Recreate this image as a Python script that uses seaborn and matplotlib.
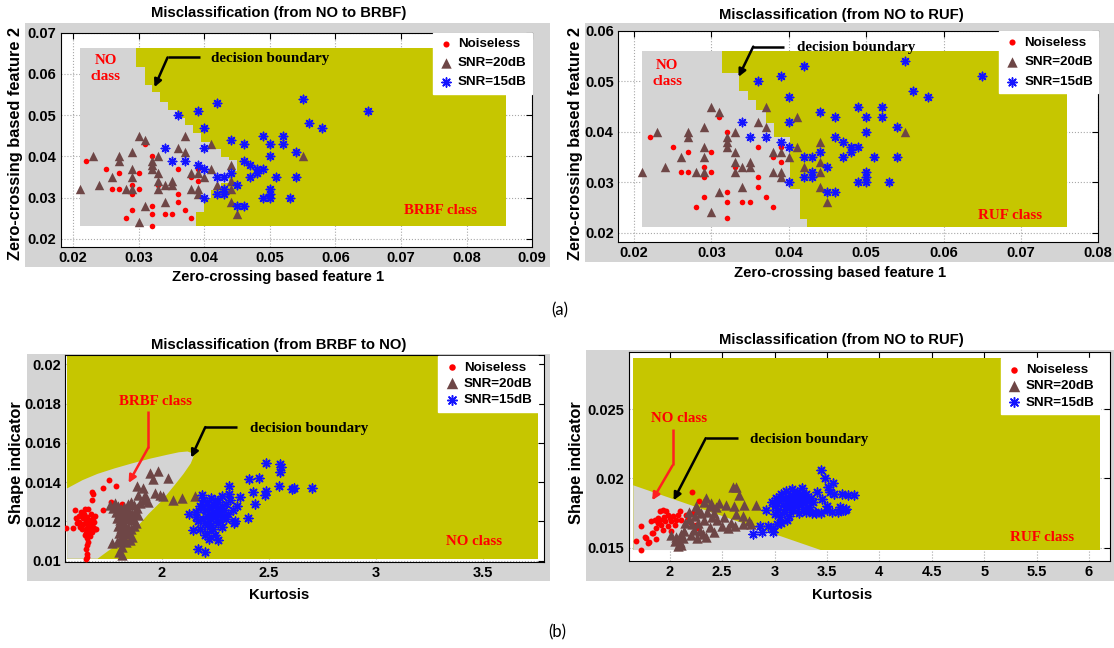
import matplotlib
matplotlib.use("Agg")
import matplotlib.pyplot as plt
from matplotlib.patches import Rectangle
import seaborn as sns

# ---------------- data ----------------
# top row: both panels show the same zero-crossing features
top_red_x = [0.022, 0.025, 0.027, 0.026, 0.027, 0.028, 0.029, 0.029, 0.029, 0.030, 0.030, 0.031, 0.032, 0.032,
             0.032, 0.032, 0.033, 0.034, 0.035, 0.036, 0.036, 0.036, 0.037, 0.038, 0.038, 0.039, 0.039]
top_red_y = [0.039, 0.037, 0.036, 0.032, 0.032, 0.025, 0.033, 0.031, 0.027, 0.036, 0.032, 0.043, 0.040, 0.028,
             0.026, 0.023, 0.033, 0.026, 0.026, 0.037, 0.031, 0.029, 0.027, 0.035, 0.025, 0.034, 0.037]
top_tri_x = [0.021, 0.023, 0.024, 0.026, 0.027, 0.027, 0.028, 0.029, 0.029, 0.029, 0.029, 0.030, 0.030, 0.031,
             0.031, 0.032, 0.032, 0.032, 0.033, 0.033, 0.033, 0.033, 0.034, 0.034, 0.035, 0.035, 0.036, 0.037,
             0.037, 0.038, 0.038, 0.039, 0.039, 0.039, 0.040, 0.041, 0.041, 0.042, 0.044, 0.044, 0.044, 0.044,
             0.045, 0.055]
top_tri_y = [0.032, 0.040, 0.033, 0.035, 0.040, 0.039, 0.032, 0.041, 0.037, 0.035, 0.032, 0.045, 0.024, 0.044,
             0.028, 0.039, 0.038, 0.037, 0.040, 0.036, 0.034, 0.032, 0.033, 0.029, 0.034, 0.033, 0.042, 0.045,
             0.041, 0.036, 0.032, 0.032, 0.031, 0.036, 0.035, 0.043, 0.037, 0.033, 0.038, 0.034, 0.032, 0.029,
             0.026, 0.040]
top_star_x = [0.034, 0.035, 0.037, 0.036, 0.039, 0.040, 0.040, 0.039, 0.040, 0.040, 0.042, 0.042, 0.042, 0.043,
              0.043, 0.043, 0.044, 0.044, 0.045, 0.045, 0.046, 0.046, 0.046, 0.047, 0.047, 0.048, 0.048, 0.049,
              0.049, 0.049, 0.050, 0.050, 0.050, 0.050, 0.050, 0.051, 0.052, 0.052, 0.053, 0.054, 0.054, 0.055,
              0.056, 0.058, 0.065]
top_star_y = [0.042, 0.039, 0.039, 0.050, 0.051, 0.047, 0.042, 0.038, 0.037, 0.030, 0.053, 0.035, 0.031, 0.035,
              0.032, 0.031, 0.044, 0.036, 0.033, 0.028, 0.028, 0.043, 0.039, 0.038, 0.035, 0.037, 0.036, 0.037,
              0.045, 0.030, 0.043, 0.040, 0.032, 0.031, 0.030, 0.035, 0.045, 0.043, 0.030, 0.041, 0.035, 0.054,
              0.048, 0.047, 0.051]

# bottom-left: kurtosis vs shape indicator (BRBF -> NO)
bl_red = [(1.553, 0.01168), (1.585, 0.01168), (1.595, 0.01256), (1.600, 0.01215), (1.605, 0.01190),
          (1.612, 0.01230), (1.615, 0.01197), (1.618, 0.01170), (1.622, 0.01250), (1.626, 0.01160),
          (1.630, 0.01215), (1.634, 0.01185), (1.638, 0.01238), (1.642, 0.01264), (1.645, 0.01205),
          (1.645, 0.01163), (1.648, 0.01140), (1.650, 0.01222), (1.652, 0.01185), (1.655, 0.01264),
          (1.657, 0.01150), (1.660, 0.01130), (1.662, 0.01205), (1.665, 0.01175), (1.668, 0.01240),
          (1.670, 0.01160), (1.673, 0.01190), (1.675, 0.01145), (1.678, 0.01215), (1.681, 0.01170),
          (1.684, 0.01195), (1.688, 0.01160), (1.695, 0.01163), (1.650, 0.01115), (1.655, 0.01095),
          (1.650, 0.01079), (1.645, 0.01060), (1.650, 0.01035), (1.652, 0.01020), (1.648, 0.01010),
          (1.665, 0.01128), (1.675, 0.01352), (1.680, 0.01340), (1.675, 0.01310), (1.725, 0.01369),
          (1.753, 0.01411), (1.787, 0.01382), (1.725, 0.01256), (1.765, 0.01301), (1.812, 0.01290),
          (1.690, 0.01230), (1.640, 0.01130)]
bl_tri = [(1.945, 0.01448), (1.984, 0.01456), (1.960, 0.01414), (2.030, 0.01422), (1.883, 0.01380),
          (1.914, 0.01370), (1.890, 0.01337), (1.922, 0.01337), (1.968, 0.01345), (1.991, 0.01337),
          (2.007, 0.01328), (2.053, 0.01311), (2.092, 0.01320), (2.154, 0.01328), (1.756, 0.01285),
          (1.780, 0.01294), (1.770, 0.01268), (1.795, 0.01280), (1.810, 0.01265), (1.825, 0.01275),
          (1.840, 0.01290), (1.855, 0.01300), (1.870, 0.01285), (1.885, 0.01270), (1.900, 0.01295),
          (1.915, 0.01310), (1.935, 0.01300), (1.785, 0.01250), (1.800, 0.01240), (1.815, 0.01230),
          (1.830, 0.01245), (1.845, 0.01255), (1.860, 0.01240), (1.875, 0.01250), (1.890, 0.01235),
          (1.790, 0.01215), (1.805, 0.01205), (1.820, 0.01195), (1.835, 0.01210), (1.850, 0.01220),
          (1.865, 0.01205), (1.880, 0.01190), (1.795, 0.01175), (1.810, 0.01165), (1.825, 0.01180),
          (1.840, 0.01170), (1.855, 0.01160), (1.870, 0.01175), (1.800, 0.01140), (1.815, 0.01130),
          (1.830, 0.01145), (1.845, 0.01135), (1.860, 0.01120), (1.805, 0.01100), (1.820, 0.01110),
          (1.835, 0.01095), (1.850, 0.01105), (1.800, 0.01046), (1.816, 0.01029), (1.816, 0.01072),
          (1.792, 0.01097), (1.769, 0.01089)]
bl_star = [(2.487, 0.01495), (2.550, 0.01492), (2.557, 0.01475), (2.553, 0.01450), (2.453, 0.01421),
           (2.408, 0.01416), (2.312, 0.01379), (2.425, 0.01348), (2.487, 0.01357), (2.482, 0.01332),
           (2.545, 0.01382), (2.608, 0.01365), (2.615, 0.01372), (2.703, 0.01370), (2.365, 0.01323),
           (2.437, 0.01290), (2.400, 0.01217), (2.337, 0.01192), (2.187, 0.01332), (2.312, 0.01340),
           (2.262, 0.01104), (2.170, 0.01062), (2.203, 0.01045), (2.145, 0.01155), (2.128, 0.01239),
           (2.16, 0.0125), (2.18, 0.0128), (2.19, 0.0121), (2.20, 0.0126), (2.21, 0.0130), (2.21, 0.0118),
           (2.22, 0.0124), (2.22, 0.0127), (2.23, 0.0121), (2.23, 0.0132), (2.24, 0.0125), (2.24, 0.0116),
           (2.25, 0.0128), (2.25, 0.0122), (2.26, 0.0130), (2.26, 0.0119), (2.27, 0.0125), (2.27, 0.0127),
           (2.28, 0.0122), (2.28, 0.0133), (2.29, 0.0126), (2.30, 0.0121), (2.30, 0.0129), (2.31, 0.0124),
           (2.32, 0.0131), (2.17, 0.0120), (2.18, 0.0116), (2.19, 0.0131), (2.20, 0.0113), (2.21, 0.0123),
           (2.22, 0.0111), (2.23, 0.0118), (2.24, 0.0129), (2.25, 0.0113), (2.26, 0.0124), (2.27, 0.0120),
           (2.28, 0.0117), (2.29, 0.0123), (2.33, 0.0126), (2.34, 0.0120), (2.35, 0.0128), (2.19, 0.0127),
           (2.20, 0.0119), (2.23, 0.0127), (2.25, 0.0131), (2.16, 0.0122), (2.28, 0.0128), (2.21, 0.0114)]

# bottom-right: kurtosis vs shape indicator (NO -> RUF)
br_red = [(1.676, 0.01548), (1.731, 0.01483), (1.731, 0.01655), (1.762, 0.01574), (1.799, 0.01543),
          (1.867, 0.01560), (1.833, 0.01603), (2.215, 0.01902), (2.283, 0.01837), (1.826, 0.01690),
          (1.858, 0.01702), (1.889, 0.01714), (1.905, 0.01762), (1.937, 0.01774), (1.968, 0.01762),
          (1.984, 0.01738), (2.000, 0.01714), (1.953, 0.01690), (1.921, 0.01667), (1.889, 0.01679),
          (1.873, 0.01643), (1.937, 0.01631), (1.984, 0.01655), (2.016, 0.01690), (2.032, 0.01726),
          (2.079, 0.01738), (2.095, 0.01762), (2.047, 0.01667), (2.016, 0.01619), (2.111, 0.01702),
          (2.158, 0.01738), (2.174, 0.01714), (2.222, 0.01750), (2.253, 0.01667), (2.269, 0.01643),
          (2.206, 0.01679), (1.842, 0.01607), (1.772, 0.01571), (1.794, 0.01536), (1.950, 0.01720),
          (1.910, 0.01700), (2.060, 0.01700)]
br_tri = [(2.601, 0.0194), (2.632, 0.0194), (2.665, 0.0188), (2.538, 0.0181), (2.617, 0.0180),
          (2.712, 0.0181), (2.823, 0.0181), (2.475, 0.0182), (2.696, 0.0173), (2.633, 0.0174),
          (2.775, 0.0167), (2.696, 0.0167), (2.585, 0.0168), (2.348, 0.0186), (2.269, 0.0177),
          (2.396, 0.0182), (2.443, 0.0179), (2.237, 0.0173), (2.300, 0.0175), (2.360, 0.0176),
          (2.400, 0.0172), (2.450, 0.0170), (2.330, 0.0170), (2.270, 0.0168), (2.210, 0.0167),
          (2.150, 0.0168), (2.180, 0.0171), (2.230, 0.0163), (2.290, 0.0162), (2.140, 0.0162),
          (2.110, 0.0160), (2.060, 0.0158), (2.017, 0.0159), (2.130, 0.0157), (2.100, 0.0154),
          (2.112, 0.0152), (2.080, 0.0151), (2.050, 0.0155), (2.200, 0.0159), (2.260, 0.0157),
          (2.320, 0.0160), (2.380, 0.0165), (2.420, 0.0161), (2.350, 0.0158), (2.500, 0.0166),
          (2.560, 0.0164), (2.620, 0.0166), (2.760, 0.0169), (2.520, 0.0172), (2.380, 0.0180),
          (2.330, 0.0183), (2.250, 0.0180), (2.180, 0.0176), (2.420, 0.0175)]
br_star = [(3.448, 0.0206), (3.480, 0.0200), (3.512, 0.0194), (3.560, 0.0197), (3.528, 0.0190),
           (3.566, 0.0189), (3.640, 0.0189), (3.700, 0.0188), (3.754, 0.0188), (3.407, 0.0190),
           (3.607, 0.0176), (3.655, 0.0177), (3.496, 0.0177), (3.448, 0.0175), (3.680, 0.0178),
           (3.669, 0.0177), (3.400, 0.0175), (3.360, 0.0175), (3.300, 0.0176), (2.794, 0.0160),
           (2.879, 0.0161), (2.981, 0.0161), (2.862, 0.0166), (2.940, 0.0166), (2.923, 0.0177),
           (2.990, 0.0164), (3.020, 0.0167),
           (2.98, 0.0183), (3.00, 0.0180), (3.01, 0.0186), (3.03, 0.0177), (3.04, 0.0184), (3.05, 0.0172),
           (3.06, 0.0189), (3.08, 0.0181), (3.09, 0.0176), (3.10, 0.0186), (3.11, 0.0191), (3.12, 0.0179),
           (3.13, 0.0184), (3.14, 0.0173), (3.15, 0.0188), (3.16, 0.0182), (3.17, 0.0192), (3.18, 0.0177),
           (3.19, 0.0186), (3.20, 0.0180), (3.21, 0.0190), (3.22, 0.0184), (3.23, 0.0175), (3.24, 0.0188),
           (3.25, 0.0181), (3.26, 0.0193), (3.27, 0.0178), (3.28, 0.0186), (3.29, 0.0182), (3.30, 0.0189),
           (3.31, 0.0184), (3.33, 0.0179), (3.35, 0.0186), (3.37, 0.0183), (3.39, 0.0176), (3.12, 0.0170),
           (3.06, 0.0168), (3.00, 0.0174), (3.20, 0.0187), (3.15, 0.0179), (3.24, 0.0183), (3.08, 0.0185),
           (3.45, 0.0185), (3.50, 0.0180), (3.55, 0.0176), (3.62, 0.0179)]

# class regions (polygon corners)
tl_yellow_x = [0.021, 0.086, 0.086, 0.021]
tl_yellow_y = [0.0232, 0.0232, 0.0662, 0.0662]
tl_grey_x = [0.021, 0.0296, 0.0296, 0.0309, 0.0309, 0.0321, 0.0321, 0.0333, 0.0333, 0.0345, 0.0345, 0.0358,
             0.0358, 0.0370, 0.0370, 0.0383, 0.0383, 0.0395, 0.0395, 0.0408, 0.0408, 0.0425, 0.0425, 0.0437,
             0.0437, 0.0450, 0.0450, 0.0437, 0.0437, 0.0425, 0.0425, 0.0410, 0.0410, 0.0400, 0.0400, 0.0387,
             0.0387, 0.021]
tl_grey_y = [0.0662, 0.0662, 0.0617, 0.0617, 0.0574, 0.0574, 0.0557, 0.0557, 0.0532, 0.0532, 0.0512, 0.0512,
             0.0492, 0.0492, 0.0476, 0.0476, 0.0456, 0.0456, 0.0436, 0.0436, 0.0418, 0.0418, 0.0398, 0.0398,
             0.0392, 0.0392, 0.0365, 0.0365, 0.0335, 0.0335, 0.0318, 0.0318, 0.0300, 0.0300, 0.0265, 0.0265,
             0.0232, 0.0232]
tr_yellow_x = [0.021, 0.076, 0.076, 0.021]
tr_yellow_y = [0.0211, 0.0211, 0.0561, 0.0561]
tr_grey_x = [0.021, 0.0314, 0.0314, 0.0335, 0.0335, 0.0347, 0.0347, 0.0358, 0.0358, 0.0370, 0.0370, 0.0381,
             0.0381, 0.0402, 0.0402, 0.0414, 0.0414, 0.0424, 0.0424, 0.021]
tr_grey_y = [0.0561, 0.0561, 0.0516, 0.0516, 0.0481, 0.0481, 0.0464, 0.0464, 0.0443, 0.0443, 0.0417, 0.0417,
             0.0390, 0.0390, 0.0287, 0.0287, 0.0228, 0.0228, 0.0211, 0.0211]
bl_yellow_x = [1.558, 3.755, 3.755, 1.558]
bl_yellow_y = [0.0101, 0.0101, 0.02042, 0.02042]
bl_grey_x = [1.558, 1.558, 1.63, 1.70, 1.78, 1.86, 1.94, 2.02, 2.08, 2.12, 2.14, 2.148, 2.135, 2.10, 2.06,
             2.00, 1.94, 1.875, 1.81, 1.75, 1.70]
bl_grey_y = [0.0101, 0.01368, 0.01410, 0.01442, 0.01470, 0.01495, 0.01518, 0.01538, 0.01552, 0.01556,
             0.01548, 0.01530, 0.01495, 0.01440, 0.01385, 0.01305, 0.01240, 0.01160, 0.01095, 0.01050, 0.0101]
br_yellow_x = [1.653, 6.104, 6.104, 1.653]
br_yellow_y = [0.01483, 0.01483, 0.02866, 0.02866]
br_grey_x = [1.653, 1.653, 3.441]
br_grey_y = [0.01483, 0.0195, 0.01483]

# ---------------- style ----------------
W, H = 1114, 648
YELLOW = "#c6c600"
GREY = "#d4d4d4"
RED = "#ff0000"
BROWN = "#6e4646"
BLUE = "#1414ff"
ASTERISK = (8, 2, 0)

sns.set_theme(style="white")
plt.rcParams["font.family"] = ["Liberation Sans", "DejaVu Sans"]
plt.rcParams["axes.edgecolor"] = "black"
plt.rcParams["axes.linewidth"] = 0.8
plt.rcParams["text.color"] = "black"
plt.rcParams["axes.labelcolor"] = "black"

fig = plt.figure(figsize=(W / 100, H / 100), dpi=100)


def grey_box(l, t, r, b):
    fig.patches.append(Rectangle((l / W, 1 - b / H), (r - l) / W, (b - t) / H, transform=fig.transFigure,
                                 facecolor=GREY, edgecolor="none", zorder=-5))


def add_axes(l, t, r, b):
    a = fig.add_axes([l / W, 1 - b / H, (r - l) / W, (b - t) / H])
    a.set_zorder(2)
    return a


def scatter(ax, red_x, red_y, tri_x, tri_y, star_x, star_y, s_dot, s_tri, s_star):
    sns.scatterplot(x=red_x, y=red_y, ax=ax, color=RED, marker="o", s=s_dot, linewidth=0,
                    label="Noiseless", zorder=3)
    sns.scatterplot(x=tri_x, y=tri_y, ax=ax, color=BROWN, marker="^", s=s_tri, linewidth=0,
                    label="SNR=20dB", zorder=3)
    sns.scatterplot(x=star_x, y=star_y, ax=ax, color=BLUE, marker=ASTERISK, s=s_star, linewidth=1.1,
                    label="SNR=15dB", zorder=3)


def arrow(ax, xs, ys, color):
    ax.plot(xs[:-1], ys[:-1], color=color, lw=1.8, zorder=4, solid_capstyle="butt")
    ax.annotate("", xy=(xs[-1], ys[-1]), xytext=(xs[-2], ys[-2]), zorder=4,
                arrowprops=dict(arrowstyle="-|>", color=color, lw=1.8, mutation_scale=11,
                                shrinkA=0, shrinkB=0))


def label(ax, x, y, txt, color, ha="left"):
    ax.text(x, y, txt, color=color, fontsize=10.8, fontweight="bold", family="Liberation Serif",
            ha=ha, va="center", zorder=4, linespacing=1.3)


def finish(ax, xlim, ylim, xt, xtl, yt, ytl, title, tpos, xlab, xpos, ylab, ypos, corner, spacing):
    ax.set_xlim(xlim)
    ax.set_ylim(ylim)
    ax.set_xticks(xt, xtl)
    ax.set_yticks(yt, ytl)
    ax.tick_params(direction="in", length=4, width=0.8, top=True, right=True, pad=3,
                   labelsize=10.5, colors="black")
    for t in ax.get_xticklabels() + ax.get_yticklabels():
        t.set_fontweight("bold")
    ax.grid(True, linestyle=":", color="#a8a8a8", linewidth=0.8)
    ax.set_axisbelow(True)
    ax.set_facecolor("white")
    ax.text(tpos[0], tpos[1], title, transform=ax.transAxes, ha="center", va="center",
            fontsize=10.7, fontweight="bold")
    ax.set_xlabel(xlab, fontsize=10.7, fontweight="bold", va="top")
    ax.xaxis.set_label_coords(*xpos)
    ax.set_ylabel(ylab, fontsize=11.8, fontweight="bold")
    ax.yaxis.set_label_coords(*ypos)
    ax.legend(loc="upper right", bbox_to_anchor=corner, bbox_transform=ax.transData, borderaxespad=0,
              frameon=True, fancybox=False, facecolor="white", edgecolor="white", framealpha=1,
              prop={"weight": "bold", "size": 9.6}, handletextpad=0.3, labelspacing=spacing,
              borderpad=0.4, handlelength=1.2, markerscale=1.1)


def xy(pairs):
    return [p[0] for p in pairs], [p[1] for p in pairs]


# ---------------- (a) top-left ----------------
grey_box(25, 23, 550, 267)
ax = add_axes(60.7, 32.7, 532.1, 246.7)
ax.fill(tl_yellow_x, tl_yellow_y, color=YELLOW, lw=0, zorder=1)
ax.fill(tl_grey_x, tl_grey_y, color=GREY, lw=0, zorder=1)
scatter(ax, top_red_x, top_red_y, top_tri_x, top_tri_y, top_star_x, top_star_y, 16, 46, 36)
label(ax, 0.025, 0.0612, "NO\nclass", RED, ha="center")
label(ax, 0.0411, 0.0638, "decision boundary", "black")
label(ax, 0.0705, 0.0270, "BRBF class", RED)
arrow(ax, [0.0393, 0.0344, 0.0324], [0.0640, 0.0640, 0.0568], "black")
xt = [0.02, 0.03, 0.04, 0.05, 0.06, 0.07, 0.08, 0.09]
yt = [0.02, 0.03, 0.04, 0.05, 0.06, 0.07]
finish(ax, (0.0181, 0.09), (0.0181, 0.07), xt, ["%.2f" % v for v in xt], yt, ["%.2f" % v for v in yt],
       "Misclassification (from NO to BRBF)", (0.462, 1.091),
       "Zero-crossing based feature 1", (0.461, -0.109),
       "Zero-crossing based feature 2", (-0.080, 0.482), (0.09, 0.07), 0.5)

# ---------------- (a) top-right ----------------
grey_box(585, 23, 1114, 262)
ax = add_axes(617.9, 31, 1098.2, 241.7)
ax.fill(tr_yellow_x, tr_yellow_y, color=YELLOW, lw=0, zorder=1)
ax.fill(tr_grey_x, tr_grey_y, color=GREY, lw=0, zorder=1)
scatter(ax, top_red_x, top_red_y, top_tri_x, top_tri_y, top_star_x, top_star_y, 16, 46, 36)
label(ax, 0.0243, 0.0516, "NO\nclass", RED, ha="center")
label(ax, 0.0411, 0.0567, "decision boundary", "black")
label(ax, 0.0644, 0.0234, "RUF class", RED)
arrow(ax, [0.0394, 0.0354, 0.0335], [0.0569, 0.0569, 0.0509], "black")
xt = [0.02, 0.03, 0.04, 0.05, 0.06, 0.07, 0.08]
yt = [0.02, 0.03, 0.04, 0.05, 0.06]
finish(ax, (0.0179, 0.08), (0.0182, 0.06), xt, ["%.2f" % v for v in xt], yt, ["%.2f" % v for v in yt],
       "Misclassification (from NO to RUF)", (0.466, 1.076),
       "Zero-crossing based feature 1", (0.462, -0.115),
       "Zero-crossing based feature 2", (-0.073, 0.468), (0.08, 0.06), 0.55)

# ---------------- (b) bottom-left ----------------
grey_box(27, 354, 550, 581)
ax = add_axes(65.4, 355, 543.6, 561.7)
ax.fill(bl_yellow_x, bl_yellow_y, color=YELLOW, lw=0, zorder=1)
ax.fill(bl_grey_x, bl_grey_y, color=GREY, lw=0, zorder=1)
rx, ry = xy(bl_red)
tx, ty = xy(bl_tri)
sx, sy = xy(bl_star)
scatter(ax, rx, ry, tx, ty, sx, sy, 18, 56, 40)
label(ax, 1.97, 0.0181, "BRBF class", RED, ha="center")
label(ax, 2.41, 0.01673, "decision boundary", "black")
label(ax, 3.325, 0.0110, "NO class", RED)
arrow(ax, [1.937, 1.937, 1.845], [0.0176, 0.01576, 0.01396], "#ff2020")
arrow(ax, [2.35, 2.203, 2.137], [0.0168, 0.0168, 0.01525], "black")
yt = [0.010, 0.012, 0.014, 0.016, 0.018, 0.020]
finish(ax, (1.55, 3.782), (0.00995, 0.02047), [2, 2.5, 3, 3.5], ["2", "2.5", "3", "3.5"],
       yt, ["0.01", "0.012", "0.014", "0.016", "0.018", "0.02"],
       "Misclassification (from BRBF to NO)", (0.446, 1.048),
       "Kurtosis", (0.446, -0.127),
       "Shape indicator", (-0.086, 0.478), (3.755, 0.02042), 0.3)

# ---------------- (b) bottom-right ----------------
grey_box(586, 350, 1114, 581)
ax = add_axes(628.6, 351.7, 1110, 561)
ax.fill(br_yellow_x, br_yellow_y, color=YELLOW, lw=0, zorder=1)
ax.fill(br_grey_x, br_grey_y, color=GREY, lw=0, zorder=1)
rx, ry = xy(br_red)
tx, ty = xy(br_tri)
sx, sy = xy(br_star)
scatter(ax, rx, ry, tx, ty, sx, sy, 18, 56, 40)
label(ax, 2.09, 0.0243, "NO class", RED, ha="center")
label(ax, 2.77, 0.02278, "decision boundary", "black")
label(ax, 5.25, 0.01574, "RUF class", RED)
arrow(ax, [2.027, 2.027, 1.833], [0.02356, 0.02093, 0.01842], "#ff2020")
arrow(ax, [2.65, 2.344, 2.037], [0.0229, 0.0229, 0.01842], "black")
xt = [2, 2.5, 3, 3.5, 4, 4.5, 5, 5.5, 6]
finish(ax, (1.608, 6.2), (0.01404, 0.02914), xt, ["%g" % v for v in xt],
       [0.015, 0.02, 0.025], ["0.015", "0.02", "0.025"],
       "Misclassification (from NO to RUF)", (0.443, 1.056),
       "Kurtosis", (0.443, -0.129),
       "Shape indicator", (-0.092, 0.468), (6.104, 0.02866), 0.3)

fig.text(560 / W, 1 - 310 / H, "(a)", ha="center", va="center", fontsize=12, family=["Lato", "DejaVu Sans"])
fig.text(557 / W, 1 - 632 / H, "(b)", ha="center", va="center", fontsize=12, family=["Lato", "DejaVu Sans"])

fig.savefig("out.png", dpi=100, facecolor="white")
